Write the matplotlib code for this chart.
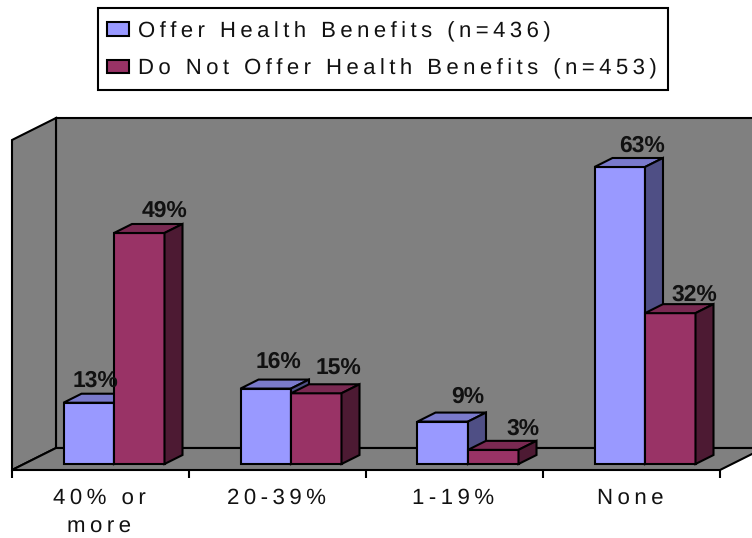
import matplotlib
matplotlib.use("Agg")
import matplotlib.pyplot as plt
from matplotlib.patches import Patch, Polygon, Rectangle

categories = ["40% or\nmore", "20-39%", "1-19%", "None"]
series_names = ["Offer Health Benefits (n=436)", "Do Not Offer Health Benefits (n=453)"]
offer = [13, 16, 9, 63]
no_offer = [49, 15, 3, 32]
y_max = 70

# picture size and where the front plane of the chart sits, in pixels
W, H = 752, 538
left, right, base = 12, 720, 470
top = 140
cat_px = (right - left) / len(categories)
pct_px = (base - top) / y_max

plt.rcParams["font.family"] = ["Liberation Sans", "DejaVu Sans"]
plt.rcParams["text.hinting"] = "none"
LINE = 1.5


def spaced(s):
    # the original has wide letter spacing
    return "\u2009".join(s)


def dx(px):
    return px / cat_px


def dy(px):
    return px / pct_px


fig = plt.figure(figsize=(W / 100, H / 100), dpi=100)
ax = fig.add_axes([0, 0, 1, 1])
ax.set_xlim(-dx(left), dx(W - left))
ax.set_ylim(-dy(H - base), dy(base))
ax.axis("off")

n = len(categories)
depth_x, depth_y = dx(44), dy(22)
wall = "#808080"

# walls and floor
ax.add_patch(Polygon([(depth_x, depth_y), (n + depth_x, depth_y), (n + depth_x, y_max + depth_y),
                      (depth_x, y_max + depth_y)], fc=wall, ec="black", lw=LINE, zorder=1))
ax.add_patch(Polygon([(0, 0), (depth_x, depth_y), (depth_x, y_max + depth_y), (0, y_max)],
                     fc=wall, ec="black", lw=LINE, zorder=1))
ax.add_patch(Polygon([(0, 0), (n, 0), (n + depth_x, depth_y), (depth_x, depth_y)],
                     fc=wall, ec="black", lw=LINE, zorder=1))

# ticks under the floor
ax.vlines(range(n + 1), -dy(8), 0, color="black", lw=LINE, zorder=2)
for i, name in enumerate(categories):
    lines = [spaced(part) for part in name.split("\n")]
    ax.text(i + 0.5 - dx(1), -dy(18), "\n".join(lines), ha="center", va="top",
            fontsize=16, color="#111111", linespacing=1.55)

# bars with their top and side faces
bar_w = dx(50.5)
bar_lift = dy(6)
bar_dx, bar_dy = dx(18), dy(9)
start = dx(51.5)


def draw_bars(values, x0, front, top_c, side_c, z):
    xs = [i + x0 for i in range(n)]
    ax.bar(xs, values, bar_w, bottom=bar_lift, align="edge", color=front, ec="black", lw=LINE, zorder=z)
    for x, v in zip(xs, values):
        y = v + bar_lift
        ax.add_patch(Polygon([(x, y), (x + bar_w, y), (x + bar_w + bar_dx, y + bar_dy), (x + bar_dx, y + bar_dy)],
                             fc=top_c, ec="black", lw=LINE, zorder=z))
        ax.add_patch(Polygon([(x + bar_w, bar_lift), (x + bar_w + bar_dx, bar_lift + bar_dy),
                              (x + bar_w + bar_dx, y + bar_dy), (x + bar_w, y)],
                             fc=side_c, ec="black", lw=LINE, zorder=z))


draw_bars(offer, start, "#9999FF", "#7A7ACC", "#4F4F85", 3)
draw_bars(no_offer, start + bar_w, "#993366", "#7A2952", "#4D1A33", 4)

# value labels, nudged in pixels from the bar top centre
offer_nudge = [(7, 22), (13, 27), (25, 25), (22, 21)]
no_offer_nudge = [(25, 22), (22, 25), (30, 21), (24, 18)]
for values, x0, nudges in [(offer, start, offer_nudge), (no_offer, start + bar_w, no_offer_nudge)]:
    for i, (v, (nx, ny)) in enumerate(zip(values, nudges)):
        ax.text(i + x0 + bar_w / 2 + dx(nx), v + bar_lift + dy(ny), f"{v}%", ha="center", va="center",
                fontsize=16.5, fontweight="bold", color="#111111", zorder=6)

# legend box drawn apart so its padding can differ per side
ax.add_patch(Rectangle((98 / W, 1 - 90 / H), 570 / W, 82 / H, transform=fig.transFigure,
                       fc="white", ec="black", lw=LINE, zorder=9))
handles = [Patch(fc="#9999FF", ec="black", lw=LINE), Patch(fc="#993366", ec="black", lw=LINE)]
leg = ax.legend(handles, [spaced(s) for s in series_names], loc="upper left",
                bbox_to_anchor=(107 / W, 1 - 21 / H), bbox_transform=fig.transFigure,
                fontsize=15.9, frameon=False, borderaxespad=0, borderpad=0, labelspacing=0.76,
                handlelength=1.0, handleheight=0.55, handletextpad=0.4, labelcolor="#111111")
leg.set_zorder(10)

fig.savefig("out.png", dpi=100)
